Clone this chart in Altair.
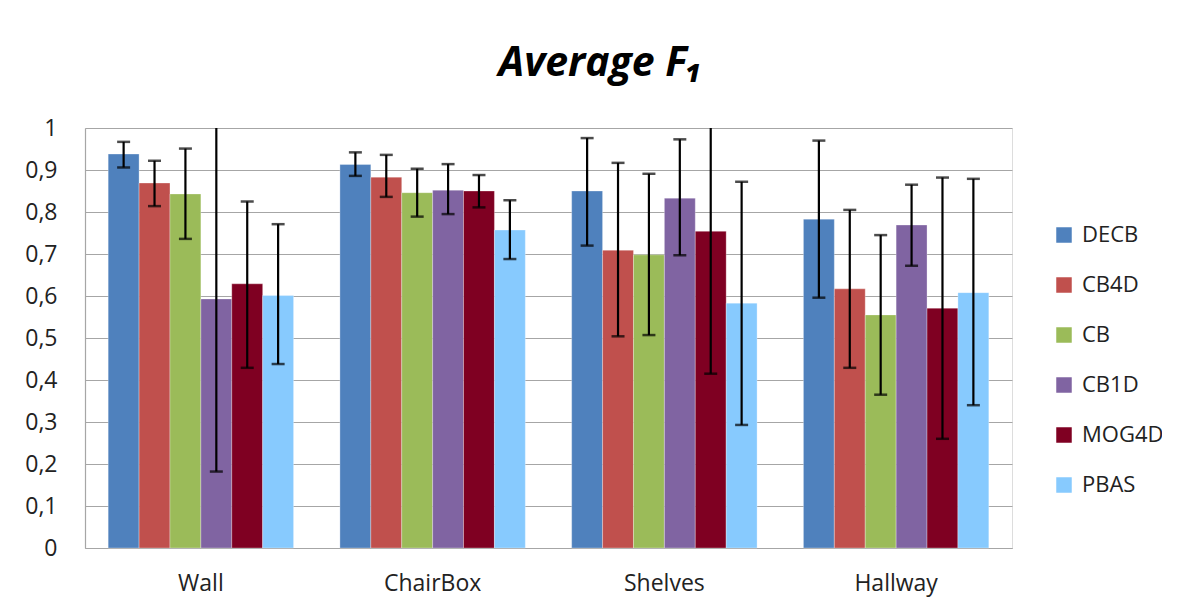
import altair as alt
import pandas as pd

categories = ["Wall", "ChairBox", "Shelves", "Hallway"]
methods = ["DECB", "CB4D", "CB", "CB1D", "MOG4D", "PBAS"]
colors = ["#4F81BD", "#C0504D", "#9BBB59", "#8064A2", "#7F0022", "#87CAFE"]

# mean values per method, in category order
decb = [0.938, 0.913, 0.850, 0.783]
cb4d = [0.869, 0.883, 0.709, 0.617]
cb = [0.843, 0.846, 0.698, 0.555]
cb1d = [0.593, 0.852, 0.833, 0.769]
mog4d = [0.629, 0.850, 0.754, 0.571]
pbas = [0.601, 0.757, 0.583, 0.608]

# error bar lower / upper bounds
decb_lo = [0.906, 0.886, 0.720, 0.596]
decb_hi = [0.967, 0.942, 0.976, 0.970]
cb4d_lo = [0.814, 0.836, 0.504, 0.429]
cb4d_hi = [0.922, 0.936, 0.917, 0.805]
cb_lo = [0.736, 0.789, 0.507, 0.365]
cb_hi = [0.951, 0.903, 0.891, 0.745]
cb1d_lo = [0.182, 0.795, 0.697, 0.672]
cb1d_hi = [1.004, 0.914, 0.973, 0.865]
mog4d_lo = [0.429, 0.811, 0.415, 0.260]
mog4d_hi = [0.825, 0.888, 1.093, 0.882]
pbas_lo = [0.438, 0.688, 0.293, 0.340]
pbas_hi = [0.771, 0.828, 0.872, 0.879]

means = [decb, cb4d, cb, cb1d, mog4d, pbas]
lows = [decb_lo, cb4d_lo, cb_lo, cb1d_lo, mog4d_lo, pbas_lo]
highs = [decb_hi, cb4d_hi, cb_hi, cb1d_hi, mog4d_hi, pbas_hi]

rows = []
for m, mv, lo, hi in zip(methods, means, lows, highs):
    for c, v, l, h in zip(categories, mv, lo, hi):
        rows.append({"Category": c, "Method": m, "Value": v, "Lower": l, "Upper": h})
df = pd.DataFrame(rows)

FONT = "Open Sans"
GRID = "#a6a6a6"

x = alt.X("Category:N", sort=categories,
          scale=alt.Scale(paddingInner=0.2, paddingOuter=0.1),
          axis=alt.Axis(title=None, labelAngle=0, labelFontSize=23, labelFont=FONT,
                        labelColor="#222222", labelPadding=24, ticks=False,
                        domainColor=GRID, domainWidth=1.2))
xo = alt.XOffset("Method:N", sort=methods, scale=alt.Scale(paddingInner=0, paddingOuter=0))
yscale = alt.Scale(domain=[0, 1], nice=False)

bars = alt.Chart(df).mark_bar(stroke="white", strokeWidth=0.6, strokeOpacity=0.5).encode(
    x=x,
    xOffset=xo,
    y=alt.Y("Value:Q", scale=yscale,
            axis=alt.Axis(title=None, values=[i / 10 for i in range(11)],
                          labelExpr="replace(format(datum.value, '.1~f'), '.', ',')",
                          labelFontSize=23, labelFont=FONT, labelColor="#222222",
                          labelPadding=28, ticks=False, grid=True, gridColor=GRID,
                          gridWidth=1.2, domainColor=GRID, domainWidth=1.2)),
    color=alt.Color("Method:N", sort=methods,
                    scale=alt.Scale(domain=methods, range=colors),
                    legend=alt.Legend(title=None, orient="none", legendX=968, legendY=96,
                                      symbolType="square", symbolSize=240,
                                      symbolStrokeWidth=0, labelFontSize=22,
                                      labelFont=FONT, labelColor="#222222",
                                      rowPadding=28, labelOffset=7)),
)

err = alt.Chart(df).mark_rule(color="black", strokeWidth=2.2, clip=True).encode(
    x=alt.X("Category:N", sort=categories), xOffset=xo,
    y=alt.Y("Lower:Q", scale=yscale), y2="Upper:Q")

cap_hi = alt.Chart(df).mark_tick(color="black", orient="horizontal", size=13,
                                 thickness=2.5, clip=True).encode(
    x=alt.X("Category:N", sort=categories), xOffset=xo,
    y=alt.Y("Upper:Q", scale=yscale))

cap_lo = alt.Chart(df).mark_tick(color="black", orient="horizontal", size=13,
                                 thickness=2.5, clip=True).encode(
    x=alt.X("Category:N", sort=categories), xOffset=xo,
    y=alt.Y("Lower:Q", scale=yscale))

chart = alt.layer(bars, err, cap_hi, cap_lo).properties(
    width=927, height=420,
    autosize=alt.AutoSizeParams(type="none"),
    padding={"left": 77, "top": 120, "right": 150, "bottom": 50},
    title=alt.Title("Average F\u2081", fontSize=41, font=FONT, fontStyle="italic",
                    fontWeight="bold", color="black", anchor="middle", frame="group",
                    dx=52, offset=32),
).configure_view(stroke=None).configure(background="white")

chart.save("out.html", embed_options={"renderer": "svg", "actions": False})
